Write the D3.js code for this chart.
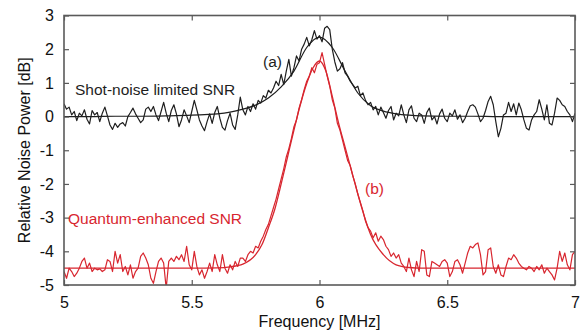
<!DOCTYPE html>
<html>
<head>
<meta charset="utf-8">
<script src="https://cdn.jsdelivr.net/npm/d3@7"></script>
<style>
  html, body { margin: 0; padding: 0; background: #fff; }
  svg { display: block; font-family: "Liberation Sans", Arial, Helvetica, sans-serif; }
</style>
</head>
<body>
<svg id="chart" width="587" height="330"></svg>
<script>
// ---- data ----
const xStart = 5.0, xStep = 0.01;
const shotNoiseTrace = [
  0.38, 0.22, 0.28, 0.05, 0.15, -0.12, 0.10, 0.02, 0.20, -0.08,
  -0.22, 0.18, 0.05, 0.12, -0.15, 0.10, 0.28, 0.02, -0.25, -0.38,
  -0.20, -0.32, -0.22, -0.18, -0.28, 0.00, 0.12, 0.25, 0.08, -0.05,
  -0.18, -0.10, 0.22, 0.28, 0.15, 0.30, 0.05, -0.12, 0.15, 0.42,
  0.10, -0.15, 0.18, 0.35, 0.08, -0.30, -0.10, 0.20, 0.02, -0.18,
  0.15, 0.48, 0.20, -0.10, -0.28, -0.42, -0.15, 0.08, -0.20, 0.12,
  0.30, -0.05, -0.32, -0.40, -0.12, 0.10, -0.25, -0.38, 0.05, 0.58,
  0.20, 0.05, 0.30, 0.15, 0.38, 0.22, 0.48, 0.40, 0.62, 0.55,
  0.78, 0.70, 0.85, 1.05, 0.92, 1.25, 0.95, 1.35, 1.70, 1.20,
  1.45, 1.80, 1.65, 2.00, 2.15, 2.35, 2.10, 2.28, 2.55, 2.30,
  2.40, 2.22, 2.62, 2.68, 2.58, 2.00, 1.62, 1.35, 1.42, 1.60,
  1.30, 1.20, 1.05, 0.95, 0.85, 0.90, 0.62, 0.70, 0.48, 0.35,
  0.42, 0.20, 0.30, 0.05, 0.28, 0.12, -0.05, 0.18, 0.30, -0.10,
  0.10, 0.02, 0.35, 0.05, -0.18, 0.20, 0.32, -0.05, -0.15, 0.10,
  0.05, -0.20, 0.12, 0.25, -0.10, 0.00, -0.22, 0.08, 0.22, -0.05,
  -0.15, 0.10, 0.02, 0.20, -0.08, 0.05, -0.18, -0.05, 0.15, 0.32,
  0.35, 0.28, 0.08, -0.15, -0.05, 0.18, 0.45, 0.60, 0.35, -0.15,
  -0.60, -0.35, 0.05, 0.10, 0.42, 0.15, 0.38, 0.05, 0.40, 0.20,
  -0.10, -0.35, -0.40, -0.10, 0.05, 0.15, 0.50, 0.22, -0.10, 0.35,
  -0.20, -0.25, 0.10, 0.55, 0.48, 0.35, 0.30, 0.15, 0.05, -0.15,
  0.10
];
const quantumTrace = [
  -4.60, -4.80, -4.50, -4.60, -4.75, -4.65, -4.50, -4.30, -4.20, -4.50,
  -4.35, -4.60, -4.50, -4.55, -4.52, -4.60, -4.55, -4.25, -4.30, -4.60,
  -4.00, -4.35, -4.10, -4.60, -4.45, -4.70, -4.40, -4.80, -4.60, -4.50,
  -4.15, -4.05, -4.20, -4.40, -4.80, -4.95, -4.60, -4.30, -4.20, -4.35,
  -5.10, -4.30, -4.20, -4.30, -4.15, -4.25, -4.10, -4.30, -3.85, -4.40,
  -4.55, -4.00, -4.45, -4.70, -4.55, -4.80, -4.60, -4.35, -4.60, -4.10,
  -4.40, -4.60, -4.10, -4.50, -4.65, -4.40, -4.55, -4.30, -4.45, -4.20,
  -4.20, -4.30, -4.10, -4.00, -4.05, -3.85, -3.90, -3.70, -3.55, -3.35,
  -3.20, -2.95, -2.70, -2.45, -2.15, -1.85, -1.55, -1.20, -0.95, -0.65,
  -0.30, -0.10, 0.25, 0.50, 0.80, 1.05, 1.20, 1.45, 1.30, 1.55,
  1.60, 1.90, 1.55, 1.20, 0.90, 0.50, 0.25, -0.20, -0.40, -0.70,
  -1.00, -1.30, -1.45, -1.75, -2.00, -2.30, -2.55, -2.80, -3.10, -3.30,
  -3.40, -3.60, -3.45, -3.70, -3.55, -3.65, -3.85, -3.95, -4.15, -4.05,
  -4.20, -4.10, -4.35, -4.45, -4.60, -4.20, -4.55, -4.75, -4.30, -4.60,
  -3.95, -4.00, -4.70, -4.75, -4.30, -4.35, -4.40, -4.45, -4.30, -4.25,
  -4.35, -4.75, -4.60, -4.30, -4.25, -4.40, -4.65, -4.35, -4.05, -3.85,
  -3.90, -3.80, -3.75, -4.10, -4.70, -4.60, -3.95, -3.90, -4.45, -4.65,
  -4.40, -4.70, -4.75, -4.45, -4.20, -4.25, -4.10, -4.20, -4.35, -4.45,
  -4.50, -4.55, -4.45, -4.50, -4.60, -4.45, -4.55, -4.40, -4.65, -4.50,
  -4.60, -4.70, -4.85, -4.50, -4.00, -4.30, -4.05, -4.40, -4.55, -4.10,
  -4.00
];
const shotFitX = [5.0, 5.1, 5.2, 5.3, 5.4, 5.5, 5.55, 5.6, 5.65, 5.7, 5.75, 5.8, 5.85, 5.9, 5.95, 6.0, 6.05, 6.1, 6.15, 6.2, 6.25, 6.3, 6.35, 6.4, 6.5, 6.6, 6.7, 6.8, 6.9, 7.0];
const shotFitY = [0, 0, 0.01, 0.01, 0.02, 0.04, 0.06, 0.08, 0.13, 0.22, 0.34, 0.55, 0.88, 1.35, 2.05, 2.36, 2.05, 1.35, 0.70, 0.32, 0.16, 0.08, 0.04, 0.02, 0.01, 0.01, 0, 0, 0, 0];
const quantumFitX = [5.0, 5.2, 5.4, 5.5, 5.6, 5.65, 5.7, 5.75, 5.775, 5.8, 5.825, 5.85, 5.875, 5.9, 5.925, 5.95, 5.975, 6.0, 6.025, 6.05, 6.075, 6.1, 6.125, 6.15, 6.175, 6.2, 6.25, 6.3, 6.35, 6.4, 6.5, 6.6, 6.8, 7.0];
const quantumFitY = [-4.5, -4.5, -4.5, -4.5, -4.49, -4.46, -4.38, -4.1, -3.8, -3.3, -2.75, -2.0, -1.2, -0.4, 0.35, 0.98, 1.45, 1.65, 1.35, 0.6, -0.2, -0.9, -1.6, -2.3, -2.95, -3.5, -4.1, -4.4, -4.48, -4.5, -4.5, -4.5, -4.5, -4.5];
const xTicks = [5, 5.5, 6, 6.5, 7];
const xTickLabels = ["5", "5.5", "6", "6.5", "7"];
const yTicks = [3, 2, 1, 0, -1, -2, -3, -4, -5];
const yTickLabels = ["3", "2", "1", "0", "-1", "-2", "-3", "-4", "-5"];
const labels = {
  xTitle: "Frequency [MHz]",
  yTitle: "Relative Noise Power [dB]",
  shot: "Shot-noise limited SNR",
  quantum: "Quantum-enhanced SNR",
  a: "(a)",
  b: "(b)"
};

// ---- drawing ----
const svg = d3.select("#chart");
const L = 64, R = 575, T = 15.5, B = 285;
const x = d3.scaleLinear().domain([5, 7]).range([L, R]);
const y = d3.scaleLinear().domain([-5, 3]).range([B, T]);
const black = "#1e1e1e", red = "#d8262f", frame = "#5a5a5a";
const fs = 15.5, fsTick = 16, fsTitle = 16;

const toPts = (arr) => arr.map((v, i) => [xStart + i * xStep, v]);
const zip = (xs, ys) => xs.map((v, i) => [v, ys[i]]);
const line = d3.line().x(d => x(d[0])).y(d => y(d[1]));
const smooth = d3.line().x(d => x(d[0])).y(d => y(d[1])).curve(d3.curveMonotoneX);

const g = svg.append("g");
g.append("clipPath").attr("id", "clip").append("rect")
  .attr("x", L).attr("y", T).attr("width", R - L).attr("height", B - T);
const plot = g.append("g").attr("clip-path", "url(#clip)");

plot.append("path").datum(zip(shotFitX, shotFitY)).attr("d", smooth)
  .attr("fill", "none").attr("stroke", black).attr("stroke-width", 1.2);
plot.append("path").datum(zip(quantumFitX, quantumFitY)).attr("d", smooth)
  .attr("fill", "none").attr("stroke", red).attr("stroke-width", 1.3);
plot.append("path").datum(toPts(shotNoiseTrace)).attr("d", line)
  .attr("fill", "none").attr("stroke", black).attr("stroke-width", 1.2).attr("stroke-linejoin", "round");
plot.append("path").datum(toPts(quantumTrace)).attr("d", line)
  .attr("fill", "none").attr("stroke", red).attr("stroke-width", 1.2).attr("stroke-linejoin", "round");

// axes (ticks inward, on all four sides)
const tl = 5;
const axB = d3.axisBottom(x).tickValues(xTicks).tickSizeInner(-tl).tickSizeOuter(0).tickPadding(12)
  .tickFormat((d, i) => xTickLabels[i]);
const axT = d3.axisTop(x).tickValues(xTicks).tickSizeInner(-tl).tickSizeOuter(0).tickFormat("");
const axL = d3.axisLeft(y).tickValues(yTicks).tickSizeInner(-tl).tickSizeOuter(0).tickPadding(10)
  .tickFormat((d, i) => yTickLabels[i]);
const axR = d3.axisRight(y).tickValues(yTicks).tickSizeInner(-tl).tickSizeOuter(0).tickFormat("");

function style(sel) {
  sel.selectAll(".domain").remove();
  sel.selectAll("line").attr("stroke", frame).attr("stroke-width", 1.2);
  sel.selectAll("text").attr("font-size", fsTick).attr("fill", "#111").attr("font-family", null);
}
g.append("g").attr("transform", `translate(0,${B})`).call(axB).call(style);
g.append("g").attr("transform", `translate(0,${T})`).call(axT).call(style);
g.append("g").attr("transform", `translate(${L},0)`).call(axL).call(style);
g.append("g").attr("transform", `translate(${R},0)`).call(axR).call(style);

g.append("rect").attr("x", L).attr("y", T).attr("width", R - L).attr("height", B - T)
  .attr("fill", "none").attr("stroke", frame).attr("stroke-width", 1.6);

// titles
g.append("text").attr("x", (L + R) / 2).attr("y", 327).attr("text-anchor", "middle")
  .attr("font-size", fsTitle).attr("fill", "#111").text(labels.xTitle);
g.append("text").attr("transform", `translate(30,${(T + B) / 2}) rotate(-90)`).attr("text-anchor", "middle")
  .attr("font-size", fsTitle).attr("fill", "#111").text(labels.yTitle);

// annotations
g.append("text").attr("x", 75).attr("y", 95).attr("font-size", fs).attr("fill", black).text(labels.shot);
g.append("text").attr("x", 263).attr("y", 67).attr("font-size", fs).attr("fill", black).text(labels.a);
g.append("text").attr("x", 68).attr("y", 224).attr("font-size", fs).attr("fill", red).text(labels.quantum);
g.append("text").attr("x", 365).attr("y", 194).attr("font-size", fs).attr("fill", red).text(labels.b);
</script>
</body>
</html>
